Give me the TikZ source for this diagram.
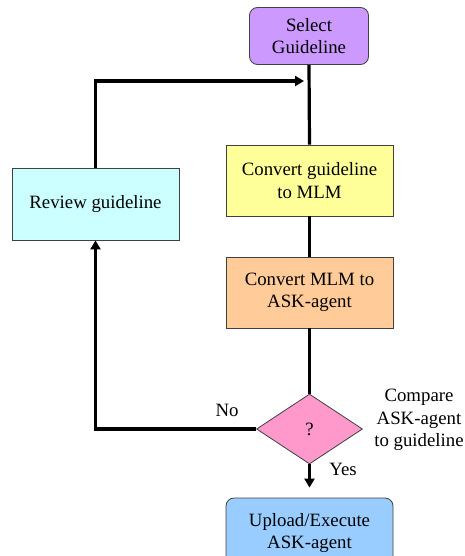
\documentclass[tikz,border=0pt]{standalone}
\usepackage{fontspec}
\setmainfont{Liberation Serif}
\usetikzlibrary{shapes.geometric,arrows.meta}

\definecolor{selectfill}{HTML}{CC99FF}
\definecolor{convfill}{HTML}{FFFF99}
\definecolor{mlmfill}{HTML}{FFCC99}
\definecolor{reviewfill}{HTML}{CCFFFF}
\definecolor{decfill}{HTML}{FF99CC}
\definecolor{uploadfill}{HTML}{99CCFF}
\definecolor{edge}{HTML}{404040}

\tikzset{
  box/.style={draw=edge, line width=0.8pt, minimum width=167pt, minimum height=70pt,
              align=center, font=\fontsize{18.8}{22.5}\selectfont, inner sep=2pt},
  roundbox/.style={box, rounded corners=8pt},
  decision/.style={diamond, draw=edge, line width=0.8pt, fill=decfill, inner sep=0pt,
                   minimum width=106pt, minimum height=70pt, font=\fontsize{18.8}{22.5}\selectfont},
  flow/.style={line width=3.2pt},
  flowarrow/.style={flow, -{Triangle[length=9pt,width=10pt]}},
  lbl/.style={align=center, font=\fontsize{18.8}{22.5}\selectfont, inner sep=0pt},
}

\begin{document}
\begin{tikzpicture}[x=1pt,y=-1pt]
  \useasboundingbox (0,0) rectangle (465,556);
  \clip (0,0) rectangle (465,556);

  % process steps
  \node[roundbox, fill=selectfill, minimum width=119pt, minimum height=57pt] (select) at (309,36) {Select\\Guideline};
  \node[box, fill=convfill, minimum height=71pt] (conv) at (309.5,180.5) {Convert guideline\\to MLM};
  \node[box, fill=mlmfill, minimum height=71pt] (mlm) at (309.5,292.5) {Convert MLM to\\ASK-agent};
  \node[decision] (check) at (309.5,429) {?};
  \node[roundbox, fill=uploadfill] (upload) at (309.5,533) {Upload/Execute\\ASK-agent};
  \node[box, fill=reviewfill, minimum height=72pt] (review) at (95.5,204) {Review guideline};

  % main trunk
  \draw[flow] (select.south) -- (conv.north);
  \draw[flow] (conv.south) -- (mlm.north);
  \draw[flow] (mlm.south) -- (check.north);
  \draw[flowarrow, shorten >=10pt] (check.south) -- (upload.north);

  % rejection loop back to the trunk
  \coordinate (join) at (309,81);
  \draw[flowarrow] (check.west) -- (review.south |- check.west) -- (review.south);
  \draw[flowarrow, shorten >=5pt] (review.north) -- (review.north |- join) -- (join);

  % labels
  \node[lbl] (no) at (227,410) {No};
  \node[lbl] (yes) at (343,469) {Yes};
  \node[lbl] (compare) at (419,420) {Compare\\ASK-agent\\to guideline};
\end{tikzpicture}
\end{document}
